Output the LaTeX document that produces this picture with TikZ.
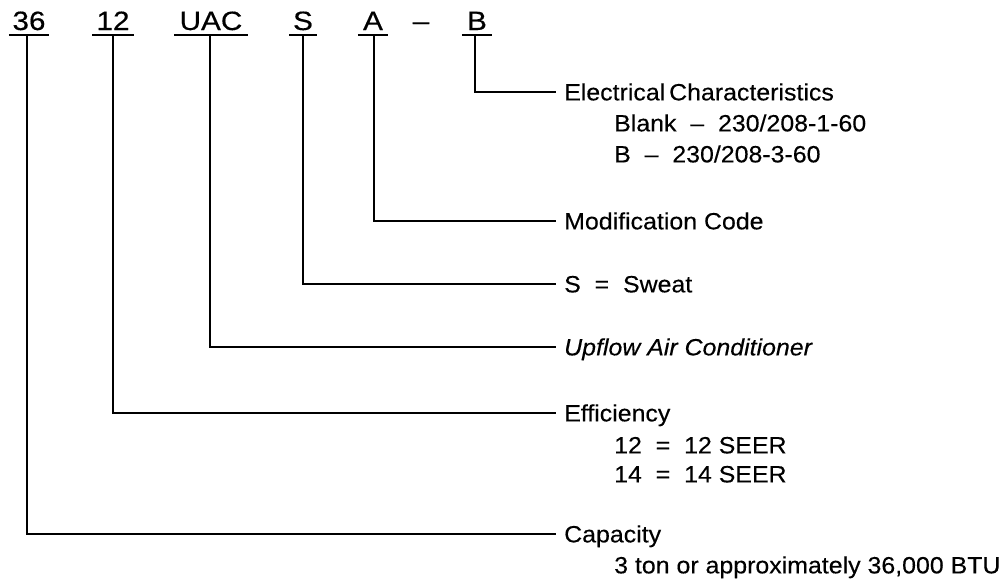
\documentclass[tikz,border=0pt]{standalone}
\usepackage{fontspec}
\setmainfont{Liberation Sans}
\newfontfamily\topfont{Liberation Sans}[FakeStretch=1.12,FakeBold=0.4]
\newfontfamily\lblfont{Liberation Sans}[FakeStretch=1.06,FakeBold=0.3]
\begin{document}
\begin{tikzpicture}[x=1pt,y=-1pt,
  code/.style={font=\topfont\fontsize{26.5}{26.5}\selectfont, anchor=base, text height=18pt, text depth=0pt, inner ysep=5pt, inner xsep=3pt},
  uline/.style={line width=1.8pt},
  conn/.style={line width=1.6pt},
  lbl/.style={font=\lblfont\fontsize{23.5}{23.5}\selectfont, anchor=west, text height=16.7pt, text depth=0pt, inner ysep=0pt, inner xsep=8pt},
  sub/.style={font=\lblfont\fontsize{23.5}{23.5}\selectfont, anchor=west, text height=16.7pt, text depth=0pt, inner sep=0pt}]
\useasboundingbox (0,0) rectangle (1006,582);
% codes
\node[code, minimum width=40pt] (c36) at (29,30) {36};
\node[code, minimum width=41pt] (c12) at (113,30) {12};
\node[code, minimum width=73pt] (cuac) at (211,30) {UAC};
\node[code, minimum width=27pt] (cs) at (303,30) {S};
\node[code, minimum width=30pt] (ca) at (373,30) {A};
\node[code] (cdash) at (421,30) {–};
\node[code, minimum width=30pt] (cb) at (477,30) {B};
\foreach \n in {c36,c12,cuac,cs,ca,cb}
  \draw[uline] (\n.south west) -- (\n.south east);
% labels
\node[lbl] (lel) at (556,92) {Electrical\,Characteristics};
\node[sub] (lel1) at (614,123) {Blank \ – \ 230/208-1-60};
\node[sub] (lel2) at (614,154) {B \ – \ 230/208-3-60};
\node[lbl] (lmod) at (556,221) {Modification Code};
\node[lbl] (lsw) at (556,284) {S \ = \ Sweat};
\node[lbl] (lup) at (556,347) {\itshape Upflow Air Conditioner};
\node[lbl] (leff) at (556,413) {Efficiency};
\node[sub] (leff1) at (614,445) {12 \ = \ 12 SEER};
\node[sub] (leff2) at (614,474) {14 \ = \ 14 SEER};
\node[lbl] (lcap) at (556,534) {Capacity};
\node[sub] (lcap1) at (614,565) {3 ton or approximately 36,000 BTU};
% connectors
\draw[conn] ([xshift=-2pt]cb.south) |- (lel.west);
\draw[conn] ([xshift=1pt]ca.south) |- (lmod.west);
\draw[conn] (cs.south) |- (lsw.west);
\draw[conn] ([xshift=-1pt]cuac.south) |- (lup.west);
\draw[conn] (c12.south) |- (leff.west);
\draw[conn] ([xshift=-2pt]c36.south) |- (lcap.west);
\end{tikzpicture}
\end{document}
